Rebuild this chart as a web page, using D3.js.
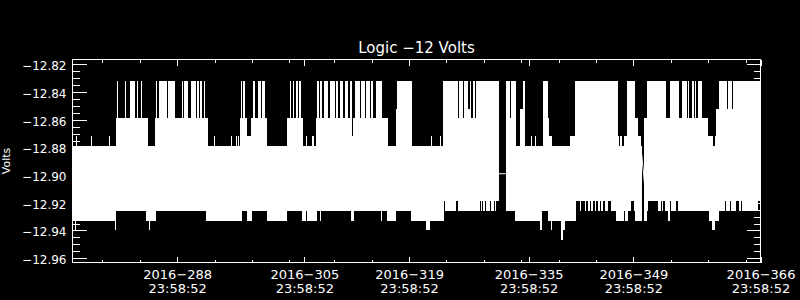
<!DOCTYPE html>
<html>
<head>
<meta charset="utf-8">
<script src="https://cdn.jsdelivr.net/npm/d3@7"></script>
<style>
    html, body { margin: 0; padding: 0; background: #000; }
    svg { display: block; }
    text { font-family: "DejaVu Sans", sans-serif; fill: #fff; }
</style>
</head>
<body>
<svg id="chart" width="800" height="300"></svg>
<script>
// Chart text
const chartTitle = 'Logic \u221212 Volts';
const yAxisLabel = 'Volts';

// Axis ticks (x in 2016 day-of-year, tick label time 23:58:52)
const xDomain = [274, 366];
const xMajorTicks = [288, 305, 319, 335, 349, 366];
const xMinorTicks = [278, 283, 293, 298, 303, 309, 314, 324, 329, 334, 339, 344, 354, 359, 364];
const xTickDates = ['2016\u2212288', '2016\u2212305', '2016\u2212319', '2016\u2212335', '2016\u2212349', '2016\u2212366'];
const xTickTime = '23:58:52';

const yDomain = [-12.9632, -12.8164];
const yMajorTicks = [-12.96, -12.94, -12.92, -12.90, -12.88, -12.86, -12.84, -12.82];
const yMinorTicks = [-12.955, -12.95, -12.945, -12.935, -12.93, -12.925, -12.915, -12.91, -12.905,
    -12.895, -12.89, -12.885, -12.875, -12.87, -12.865, -12.855, -12.85, -12.845,
    -12.835, -12.83, -12.825];

// Signal envelope: upper edge of the trace (step after each time, null = no data)
const upperTimes = [274.00, 274.51, 274.57, 275.78, 275.87, 276.54, 276.62, 277.48, 277.56, 278.85,
    278.95, 279.79, 279.92, 280.15, 280.99, 281.22, 281.66, 282.33, 282.56, 282.77,
    283.13, 283.27, 283.40, 283.49, 284.07, 284.74, 284.83, 285.04, 285.14, 285.31,
    285.54, 286.65, 286.78, 287.68, 288.61, 288.79, 288.92, 289.46, 289.82, 290.49,
    290.66, 290.93, 291.11, 291.33, 291.52, 291.73, 292.09, 292.89, 292.99, 293.83,
    293.92, 295.26, 295.34, 295.93, 296.01, 296.14, 296.24, 296.37, 296.50, 296.68,
    296.81, 297.04, 297.40, 297.84, 298.15, 298.47, 298.74, 299.27, 299.40, 299.71,
    300.07, 302.65, 303.06, 303.19, 303.42, 303.63, 303.95, 304.13, 304.30, 304.62,
    304.79, 305.24, 305.42, 306.04, 306.26, 306.53, 306.71, 306.97, 307.16, 307.43,
    307.60, 308.18, 308.40, 309.07, 309.30, 309.51, 309.83, 310.18, 310.41, 310.85,
    311.08, 311.31, 311.48, 311.75, 312.42, 312.64, 313.08, 313.31, 313.75, 313.98,
    314.19, 314.55, 315.36, 316.16, 317.23, 317.40, 317.63, 317.72, 318.53, 318.66,
    319.37, 320.30, 320.40, 322.00, 322.08, 323.15, 323.29, 323.51, 325.52, 325.65,
    326.19, 326.32, 326.86, 327.12, 327.26, 327.52, 327.79, 327.93, 331.00, 331.94,
    332.20, 332.30, 332.47, 332.61, 333.27, 333.81, 334.25, 334.48, 335.28, 335.51,
    335.82, 336.04, 336.92, 337.59, 337.78, 338.18, 340.49, 341.16, 346.91, 347.05,
    347.18, 347.54, 347.71, 348.12, 349.19, 349.63, 349.99, 350.12, 350.48, 350.79,
    353.42, 353.87, 355.11, 355.47, 356.18, 356.27, 356.45, 356.81, 357.07, 357.25,
    357.44, 357.70, 358.14, 359.04, 359.66, 359.92, 360.11, 360.42, 361.09, 361.18,
    361.58, 361.66, 362.20, 362.29, 366.00];
const upperVolts = [-12.879, -12.872, -12.879, -12.872, -12.879, -12.872, -12.879, -12.872, -12.879, -12.872,
    -12.879, -12.859, -12.832, -12.859, -12.832, -12.859, -12.832, -12.859, -12.832, -12.859,
    -12.832, -12.859, -12.832, -12.859, -12.879, -12.872, -12.879, -12.859, -12.832, -12.859,
    -12.832, -12.859, -12.832, -12.859, -12.832, -12.859, -12.832, -12.859, -12.832, -12.859,
    -12.832, -12.859, -12.832, -12.859, -12.832, -12.859, -12.879, -12.872, -12.879, -12.872,
    -12.879, -12.872, -12.879, -12.872, -12.879, -12.872, -12.879, -12.859, -12.832, -12.859,
    -12.832, -12.859, -12.872, -12.859, -12.832, -12.859, -12.832, -12.859, -12.832, -12.859,
    -12.879, -12.859, -12.832, -12.859, -12.832, -12.859, -12.832, -12.859, -12.832, -12.859,
    -12.879, -12.872, -12.879, -12.872, -12.879, -12.859, -12.832, -12.859, -12.832, -12.859,
    -12.832, -12.859, -12.832, -12.859, -12.832, -12.859, -12.832, -12.859, -12.832, -12.859,
    -12.832, -12.872, -12.859, -12.832, -12.859, -12.832, -12.859, -12.832, -12.859, -12.832,
    -12.859, -12.832, -12.859, -12.879, -12.852, -12.832, -12.859, -12.832, -12.859, -12.832,
    -12.879, -12.872, -12.879, -12.872, -12.879, -12.872, -12.879, -12.832, -12.859, -12.832,
    -12.859, -12.832, -12.852, -12.832, -12.859, -12.832, -12.859, -12.832, null, -12.832,
    -12.859, -12.832, -12.859, -12.832, -12.879, -12.852, -12.832, -12.879, -12.872, -12.879,
    -12.872, -12.879, -12.832, -12.859, -12.872, -12.879, -12.872, -12.832, -12.872, -12.879,
    -12.872, -12.879, -12.872, -12.832, -12.859, -12.872, -12.879, null, -12.859, -12.832,
    -12.859, -12.832, -12.859, -12.832, -12.859, -12.832, -12.859, -12.832, -12.859, -12.832,
    -12.859, -12.832, -12.859, -12.872, -12.879, -12.872, -12.852, -12.832, -12.852, -12.832,
    -12.852, -12.832, -12.852, -12.832, -12.832];

// Lower edge of the trace
const lowerTimes = [274.00, 274.37, 274.47, 279.66, 279.75, 279.88, 283.89, 284.24, 284.34, 285.14,
    291.82, 296.64, 297.40, 297.97, 299.98, 302.39, 302.48, 302.65, 303.46, 303.55,
    304.66, 305.19, 305.33, 306.67, 307.07, 307.20, 311.21, 311.61, 314.69, 314.78,
    315.22, 315.36, 316.03, 316.56, 316.65, 317.23, 319.23, 321.24, 321.78, 322.18,
    322.27, 323.65, 323.78, 324.05, 324.14, 324.72, 324.81, 325.25, 325.52, 328.46,
    328.69, 328.82, 328.90, 329.13, 329.36, 329.80, 330.02, 330.33, 330.56, 330.69,
    331.00, 331.94, 333.14, 336.48, 336.75, 337.59, 338.05, 338.18, 339.29, 339.60,
    339.83, 341.30, 341.83, 342.06, 342.50, 342.73, 342.94, 343.17, 343.40, 343.61,
    343.84, 344.06, 344.28, 344.51, 344.73, 344.95, 345.17, 345.62, 346.07, 346.74,
    347.71, 347.85, 348.25, 348.65, 349.05, 349.19, 350.12, 350.48, 350.79, 350.96,
    352.26, 352.66, 352.80, 352.97, 353.20, 353.60, 353.87, 353.96, 354.09, 354.76,
    354.98, 359.08, 359.48, 359.88, 360.42, 361.22, 361.45, 361.89, 362.02, 362.78,
    363.09, 363.45, 363.53, 365.63, 366.00];
const lowerVolts = [-12.933, -12.940, -12.933, -12.940, -12.933, -12.926, -12.933, -12.940, -12.933, -12.926,
    -12.933, -12.926, -12.933, -12.926, -12.933, -12.940, -12.933, -12.926, -12.919, -12.926,
    -12.933, -12.926, -12.933, -12.926, -12.933, -12.926, -12.933, -12.926, -12.919, -12.926,
    -12.933, -12.926, -12.933, -12.940, -12.933, -12.926, -12.933, -12.940, -12.933, -12.947,
    -12.933, -12.919, -12.926, -12.919, -12.926, -12.919, -12.926, -12.919, -12.926, -12.919,
    -12.926, -12.919, -12.926, -12.919, -12.926, -12.919, -12.926, -12.919, -12.926, -12.919,
    null, -12.926, -12.933, -12.940, -12.926, -12.933, -12.940, -12.933, -12.947, -12.940,
    -12.933, -12.919, -12.926, -12.919, -12.926, -12.919, -12.926, -12.919, -12.926, -12.919,
    -12.926, -12.919, -12.926, -12.919, -12.926, -12.919, -12.926, -12.919, -12.926, -12.933,
    -12.926, -12.933, -12.926, -12.919, -12.926, -12.933, null, -12.933, -12.926, -12.919,
    -12.926, -12.919, -12.926, -12.919, -12.926, -12.933, -12.926, -12.919, -12.926, -12.919,
    -12.926, -12.933, -12.940, -12.933, -12.926, -12.919, -12.926, -12.919, -12.926, -12.919,
    -12.926, -12.919, -12.926, -12.919, -12.919];

// Straight line segments drawn across the two data gaps
const gapTimes = [[331.00, 331.94], [350.12, 350.48]];
const gapVolts = [[-12.899, -12.899], [-12.885, -12.906]];

const midVolts = -12.90;

const plot = { left: 72.5, right: 760.5, top: 59.5, bottom: 262.5 };

const svg = d3.select('#chart');
svg.append('rect').attr('width', 800).attr('height', 300).attr('fill', '#000');

const xScale = d3.scaleLinear().domain(xDomain).range([plot.left, plot.right]);
const yScale = d3.scaleLinear().domain(yDomain).range([plot.bottom, plot.top]);

// turn each step run into two points so the edge stays flat until the next change
function toSteps(times, volts) {
    const pts = [];
    for (let i = 0; i < times.length - 1; i++) {
        pts.push({ t: times[i], v: volts[i] });
        pts.push({ t: times[i + 1], v: volts[i] });
    }
    return pts;
}

const area = d3.area()
    .defined(d => d.v !== null)
    .x(d => xScale(d.t))
    .y0(yScale(midVolts))
    .y1(d => yScale(d.v));

const clip = svg.append('clipPath').attr('id', 'plotClip')
    .append('rect')
    .attr('x', plot.left).attr('y', plot.top)
    .attr('width', plot.right - plot.left).attr('height', plot.bottom - plot.top);

const traces = svg.append('g').attr('clip-path', 'url(#plotClip)');

traces.append('path')
    .datum(toSteps(upperTimes, upperVolts))
    .attr('fill', '#fff')
    .attr('shape-rendering', 'crispEdges')
    .attr('d', area);

traces.append('path')
    .datum(toSteps(lowerTimes, lowerVolts))
    .attr('fill', '#fff')
    .attr('shape-rendering', 'crispEdges')
    .attr('d', area);

const gapLine = d3.line().x(d => xScale(d[0])).y(d => yScale(d[1]));
gapTimes.forEach((ts, i) => {
    traces.append('path')
        .datum(d3.zip(ts, gapVolts[i]))
        .attr('fill', 'none')
        .attr('stroke', '#fff')
        .attr('stroke-width', 1)
        .attr('d', gapLine);
});

// axes, IDL style: ticks pointing into the box on all four sides
function styleAxis(g) {
    g.select('.domain').remove();
    g.selectAll('line').attr('stroke', '#fff').attr('shape-rendering', 'crispEdges');
    g.attr('font-family', null).attr('font-size', null);
}

svg.append('g')
    .attr('transform', `translate(${plot.left},0)`)
    .call(d3.axisLeft(yScale).tickValues(yMajorTicks).tickSize(-14).tickPadding(6)
        .tickFormat(d => d3.format('.2f')(d).replace('-', '\u2212')))
    .call(styleAxis)
    .call(g => g.selectAll('text').style('font-size', '12px').attr('dy', '0.45em'));

svg.append('g')
    .attr('transform', `translate(${plot.left},0)`)
    .call(d3.axisLeft(yScale).tickValues(yMinorTicks).tickSize(-7).tickFormat(''))
    .call(styleAxis);

svg.append('g')
    .attr('transform', `translate(${plot.right},0)`)
    .call(d3.axisRight(yScale).tickValues(yMajorTicks).tickSize(-14).tickFormat(''))
    .call(styleAxis);

svg.append('g')
    .attr('transform', `translate(${plot.right},0)`)
    .call(d3.axisRight(yScale).tickValues(yMinorTicks).tickSize(-7).tickFormat(''))
    .call(styleAxis);

const bottomAxis = svg.append('g')
    .attr('transform', `translate(0,${plot.bottom})`)
    .call(d3.axisBottom(xScale).tickValues(xMajorTicks).tickSize(-6).tickFormat(''))
    .call(styleAxis);

bottomAxis.selectAll('.tick').each(function (d, i) {
    const t = d3.select(this).append('text')
        .attr('text-anchor', 'middle')
        .style('font-size', '13px');
    t.append('tspan').attr('x', 0).attr('y', 16).text(xTickDates[i]);
    t.append('tspan').attr('x', 0).attr('y', 30).text(xTickTime);
});

svg.append('g')
    .attr('transform', `translate(0,${plot.bottom})`)
    .call(d3.axisBottom(xScale).tickValues(xMinorTicks).tickSize(-3).tickFormat(''))
    .call(styleAxis);

svg.append('g')
    .attr('transform', `translate(0,${plot.top})`)
    .call(d3.axisTop(xScale).tickValues(xMajorTicks).tickSize(-6).tickFormat(''))
    .call(styleAxis);

svg.append('g')
    .attr('transform', `translate(0,${plot.top})`)
    .call(d3.axisTop(xScale).tickValues(xMinorTicks).tickSize(-3).tickFormat(''))
    .call(styleAxis);

// plot box
svg.append('rect')
    .attr('x', plot.left).attr('y', plot.top)
    .attr('width', plot.right - plot.left).attr('height', plot.bottom - plot.top)
    .attr('fill', 'none')
    .attr('stroke', '#fff')
    .attr('shape-rendering', 'crispEdges');

svg.append('text')
    .attr('x', (plot.left + plot.right) / 2)
    .attr('y', 53)
    .attr('text-anchor', 'middle')
    .style('font-size', '15px')
    .text(chartTitle);

svg.append('text')
    .attr('transform', `translate(10,${(plot.top + plot.bottom) / 2}) rotate(-90)`)
    .attr('text-anchor', 'middle')
    .style('font-size', '11px')
    .text(yAxisLabel);
</script>
</body>
</html>
